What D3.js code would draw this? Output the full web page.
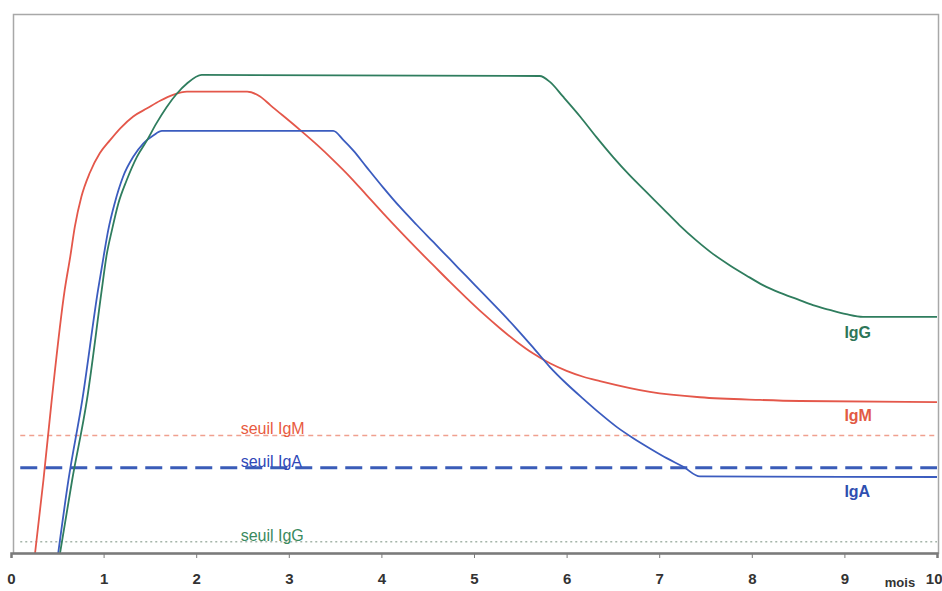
<!DOCTYPE html>
<html>
<head>
<meta charset="utf-8">
<script src="https://cdn.jsdelivr.net/npm/d3@7"></script>
<style>
  html, body { margin: 0; padding: 0; background: #fff; }
  svg { display: block; }
</style>
</head>
<body>
<svg id="chart" width="942" height="591"></svg>
<script>
// ---- Data (months vs. relative antibody level) ----
const monthTicks = [0, 1, 2, 3, 4, 5, 6, 7, 8, 9, 10];
const xUnit = "mois";

const igmMonths = [0.26, 0.35, 0.44, 0.58, 0.64, 0.69, 0.76, 0.85, 0.96, 1.07, 1.18, 1.32, 1.47, 1.61, 1.75, 1.90, 2.55, 2.69, 2.80,
  3.12, 3.30, 3.48, 3.66, 3.84, 4.02, 4.20, 4.38, 4.56, 4.74, 4.92, 5.10, 5.28, 5.46, 5.64, 5.82, 6.00, 6.18, 6.36, 6.90, 7.44, 8.09, 8.52, 10];
const igmValues = [0, 13.5, 28.4, 48.8, 55.0, 60.6, 66.1, 70.5, 74.2, 76.6, 78.8, 81.0, 82.5, 83.9, 85.0, 85.6, 85.6, 84.7, 83.1,
  78.5, 75.8, 72.9, 69.8, 66.4, 63.0, 59.7, 56.5, 53.4, 50.3, 47.3, 44.4, 41.7, 39.2, 37.0, 35.2, 33.8, 32.7, 31.9, 29.9, 28.9, 28.4, 28.2, 28.0];

const igaMonths = [0.51, 0.62, 0.77, 0.94, 1.00, 1.05, 1.12, 1.21, 1.32, 1.43, 1.54, 1.63, 3.48, 3.59, 3.70, 3.84, 4.02, 4.20, 4.38, 4.56,
  4.74, 4.92, 5.10, 5.28, 5.46, 5.64, 5.82, 6.00, 6.18, 6.36, 6.54, 6.72, 6.90, 7.08, 7.26, 7.44, 10];
const igaValues = [0, 13.5, 28.4, 48.8, 55.0, 59.9, 64.9, 69.8, 73.5, 76.0, 77.5, 78.3, 78.3, 76.6, 74.6, 71.6, 67.8, 64.2, 60.9, 57.7,
  54.5, 51.3, 48.1, 44.9, 41.6, 38.1, 34.5, 31.4, 28.6, 25.9, 23.4, 21.3, 19.4, 17.6, 16.0, 14.2, 14.1];

const iggMonths = [0.53, 0.66, 0.82, 0.98, 1.03, 1.09, 1.16, 1.25, 1.36, 1.47, 1.57, 1.68, 1.79, 1.90, 2.06, 5.71, 5.82, 5.96, 6.15, 6.32,
  6.50, 6.68, 6.86, 7.04, 7.22, 7.40, 7.58, 7.76, 7.94, 8.12, 8.30, 8.49, 8.66, 8.84, 9.02, 9.20, 10];
const iggValues = [0, 13.5, 28.4, 48.8, 55.0, 59.9, 64.9, 69.2, 73.5, 76.6, 79.7, 82.7, 85.2, 87.1, 88.7, 88.5, 87.4, 84.7, 80.9, 77.2,
  73.5, 70.1, 67.0, 63.9, 60.8, 58.0, 55.5, 53.4, 51.5, 49.7, 48.3, 47.1, 46.0, 45.1, 44.3, 43.8, 43.8];

const thresholdNames = ["seuil IgM", "seuil IgA", "seuil IgG"];
const thresholdValues = [21.8, 15.8, 2.1];
const thresholdStart = 0.1;

const seriesNames = ["IgG", "IgM", "IgA"];

// ---- Layout / scales ----
const svg = d3.select("#chart");
const x = d3.scaleLinear().domain([0, 10]).range([11, 937]);
const y = d3.scaleLinear().domain([0, 100]).range([553, 14]);

const colors = { IgM: "#e4574a", IgA: "#3b5cbf", IgG: "#2f7d5e" };
const labelColors = { IgM: "#e25a43", IgA: "#2f4fb0", IgG: "#2e7658" };
const fontNarrow = "'Liberation Sans Narrow', 'Liberation Sans', Arial, sans-serif";

// frame
svg.append("rect")
  .attr("x", 13.5).attr("y", 14.5)
  .attr("width", 925).attr("height", 539)
  .attr("fill", "none").attr("stroke", "#a8a8a8").attr("stroke-width", 1.5);

// thresholds
const thrStyle = [
  { color: "#f0a08f", width: 1.3, dash: "5,4" },
  { color: "#3a5cb8", width: 3, dash: "17,8" },
  { color: "#a5b5aa", width: 1.6, dash: "2,3" }
];
thresholdValues.forEach((v, i) => {
  svg.append("line")
    .attr("x1", x(thresholdStart)).attr("x2", x(10))
    .attr("y1", y(v)).attr("y2", y(v))
    .attr("stroke", thrStyle[i].color)
    .attr("stroke-width", thrStyle[i].width)
    .attr("stroke-dasharray", thrStyle[i].dash);
});

// curves
const line = d3.line()
  .x(d => x(d[0])).y(d => y(d[1]))
  .curve(d3.curveMonotoneX);

const series = [
  { name: "IgM", m: igmMonths, v: igmValues },
  { name: "IgA", m: igaMonths, v: igaValues },
  { name: "IgG", m: iggMonths, v: iggValues }
];
series.forEach(s => {
  svg.append("path")
    .datum(s.m.map((m, i) => [m, s.v[i]]))
    .attr("d", line)
    .attr("fill", "none")
    .attr("stroke", colors[s.name])
    .attr("stroke-width", 1.8)
    .attr("stroke-linejoin", "round");
});

// x axis
const xAxis = d3.axisBottom(x).tickValues(monthTicks).tickSize(5).tickFormat(d3.format("d"));
const gx = svg.append("g").attr("transform", "translate(0,553)").call(xAxis);
gx.select(".domain").attr("stroke", "#7a7a7a").attr("stroke-width", 2.5);
gx.selectAll(".tick line").attr("stroke", "#7a7a7a");
gx.selectAll(".tick text")
  .attr("y", 20)
  .attr("fill", "#333")
  .style("font-family", fontNarrow)
  .style("font-weight", "bold")
  .style("font-size", "15px");
gx.selectAll(".tick text").filter(d => d === 10)
  .attr("text-anchor", "end").attr("x", 942 - x(10));

svg.append("text")
  .attr("x", x(9.6)).attr("y", 587)
  .attr("text-anchor", "middle")
  .attr("fill", "#333")
  .style("font-family", fontNarrow)
  .style("font-weight", "bold")
  .style("font-size", "13px")
  .text(xUnit);

// threshold labels
const thrLabelColors = ["#e85a40", "#3048b8", "#3a8a5e"];
thresholdNames.forEach((t, i) => {
  svg.append("text")
    .attr("x", x(2.48)).attr("y", y(thresholdValues[i]) - 1)
    .attr("fill", thrLabelColors[i])
    .style("font-family", fontNarrow)
    .style("font-size", "16px")
    .text(t);
});

// series labels
const seriesLabelValues = { IgG: 39.9, IgM: 24.5, IgA: 10.4 };
seriesNames.forEach(n => {
  svg.append("text")
    .attr("x", x(9.0)).attr("y", y(seriesLabelValues[n]))
    .attr("fill", labelColors[n])
    .style("font-family", fontNarrow)
    .style("font-weight", "bold")
    .style("font-size", "16px")
    .text(n);
});
</script>
</body>
</html>
